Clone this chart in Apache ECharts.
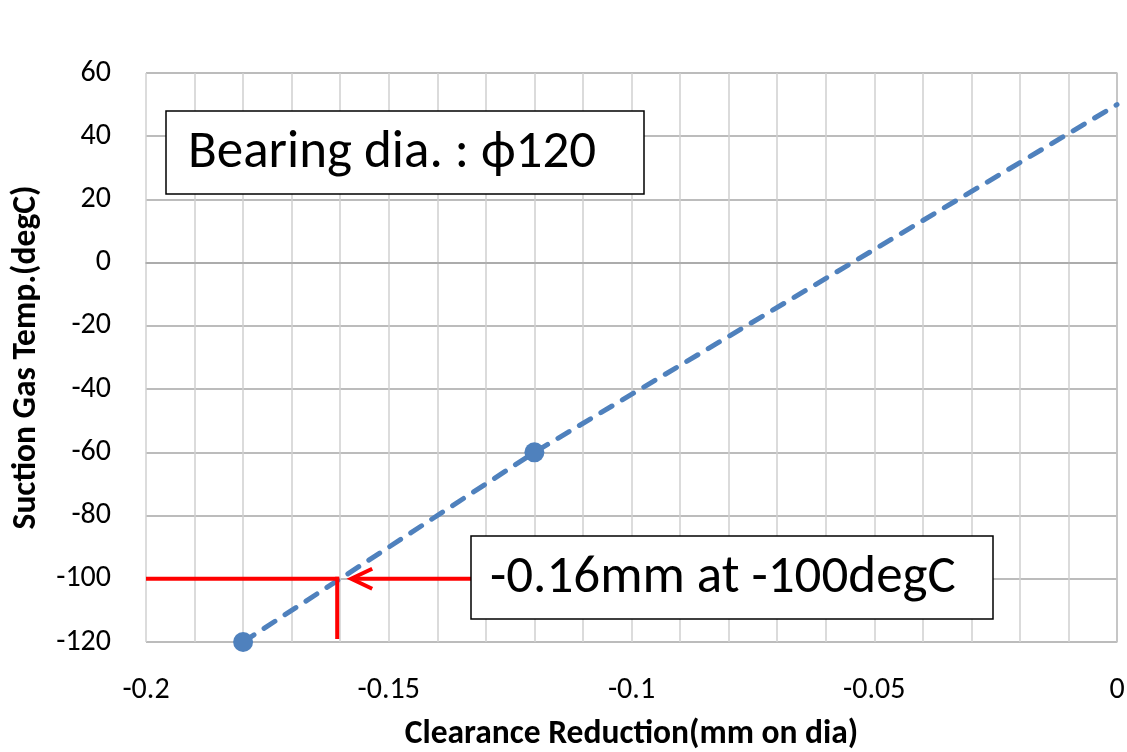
<!DOCTYPE html>
<html>
<head>
<meta charset="utf-8">
<script src="https://cdn.jsdelivr.net/npm/echarts@6/dist/echarts.min.js"></script>
<style>
html,body{margin:0;padding:0;background:#fff;}
#main{width:1127px;height:752px;}
</style>
</head>
<body>
<div id="main"></div>
<script>
// Data
const clearance = [-0.18, -0.12, 0];          // mm on dia
const gasTemp   = [-120, -60, 50];            // degC
const showMarker = [true, true, false];
const annotX = -0.16;                         // mm
const annotY = -100;                          // degC
const boxText1 = 'Bearing dia. : \u03D5120';
const boxText2 = '-0.16mm at -100degC';
const xTitle = 'Clearance Reduction(mm on dia)';
const yTitle = 'Suction Gas Temp.(degC)';

const FONT = 'Carlito, Lato, "Open Sans", sans-serif';
const chart = echarts.init(document.getElementById('main'), null, {renderer: 'canvas'});

const seriesData = clearance.map((x, i) => [x, gasTemp[i]]);

chart.setOption({
  animation: false,
  backgroundColor: '#ffffff',
  grid: {left: 146, right: 10, top: 73, bottom: 110, containLabel: false, outerBoundsMode: 'none'},
  xAxis: {
    type: 'value', min: -0.2, max: 0, interval: 0.05,
    name: xTitle, nameLocation: 'middle', nameGap: 76,
    nameTextStyle: {fontFamily: FONT, fontWeight: 'bold', fontSize: 33.5, color: '#000'},
    axisLine: {show: true, lineStyle: {color: '#a6a6a6', width: 1.5}},
    axisTick: {show: false},
    axisLabel: {fontFamily: FONT, fontSize: 30, color: '#000', margin: 33,
      formatter: v => (Math.abs(v) < 1e-9 ? '0' : String(+v.toFixed(2)))},
    splitLine: {show: true, lineStyle: {color: '#d0d0d0', width: 1.5}},
    minorTick: {show: false, splitNumber: 5},
    minorSplitLine: {show: true, lineStyle: {color: '#d0d0d0', width: 1.5}}
  },
  yAxis: {
    type: 'value', min: -120, max: 60, interval: 20,
    name: yTitle, nameLocation: 'middle', nameGap: 102, nameRotate: 90,
    nameTextStyle: {fontFamily: FONT, fontWeight: 'bold', fontSize: 33.5, color: '#000'},
    axisLine: {show: true, lineStyle: {color: '#bfbfbf', width: 1.5}},
    axisTick: {show: false},
    axisLabel: {fontFamily: FONT, fontSize: 30, color: '#000', margin: 35},
    splitLine: {show: true, lineStyle: {color: '#a6a6a6', width: 1.5}}
  },
  series: [{
    type: 'line',
    data: seriesData,
    symbol: 'circle',
    symbolSize: (val, params) => (showMarker[params.dataIndex] ? 20 : 0),
    showAllSymbol: true,
    itemStyle: {color: '#4f81bd'},
    lineStyle: {color: '#4f81bd', width: 5, type: [13, 12], cap: 'round'},
    z: 3
  }]
});

// Annotation pieces positioned from data coordinates
const p = chart.convertToPixel({gridIndex: 0}, [annotX, annotY]);
const left = chart.convertToPixel({gridIndex: 0}, [-0.2, annotY]);
const bottom = chart.convertToPixel({gridIndex: 0}, [annotX, -120]);
const vx = p[0] - 3;
const red = '#ff0000';
const box2 = {x: 471, y: 536, w: 522, h: 83};
const box1 = {x: 166, y: 111, w: 478, h: 83};

chart.setOption({
  graphic: [
    {type: 'line', z: 10, shape: {x1: left[0], y1: p[1], x2: vx + 2, y2: p[1]},
      style: {stroke: red, lineWidth: 4}},
    {type: 'line', z: 10, shape: {x1: vx, y1: p[1] - 2, x2: vx, y2: bottom[1] - 3},
      style: {stroke: red, lineWidth: 4}},
    {type: 'line', z: 10, shape: {x1: box2.x, y1: p[1], x2: p[0] + 12, y2: p[1]},
      style: {stroke: red, lineWidth: 4}},
    {type: 'polyline', z: 10, shape: {points: [[p[0] + 32, p[1] - 10], [p[0] + 11, p[1]], [p[0] + 32, p[1] + 10]]},
      style: {stroke: red, lineWidth: 4, fill: null}},
    {type: 'rect', z: 20, shape: {x: box1.x, y: box1.y, width: box1.w, height: box1.h},
      style: {fill: '#fff', stroke: '#000', lineWidth: 1.5}},
    {type: 'text', z: 21, x: box1.x + 22, y: box1.y + box1.h / 2 + 1,
      style: {text: boxText1, font: '53px ' + FONT, fill: '#000', textVerticalAlign: 'middle', verticalAlign: 'middle'}},
    {type: 'rect', z: 20, shape: {x: box2.x, y: box2.y, width: box2.w, height: box2.h},
      style: {fill: '#fff', stroke: '#000', lineWidth: 1.5}},
    {type: 'text', z: 21, x: box2.x + 19, y: box2.y + box2.h / 2 + 1,
      style: {text: boxText2, font: '53px ' + FONT, fill: '#000', textVerticalAlign: 'middle', verticalAlign: 'middle'}}
  ]
});
</script>
</body>
</html>
